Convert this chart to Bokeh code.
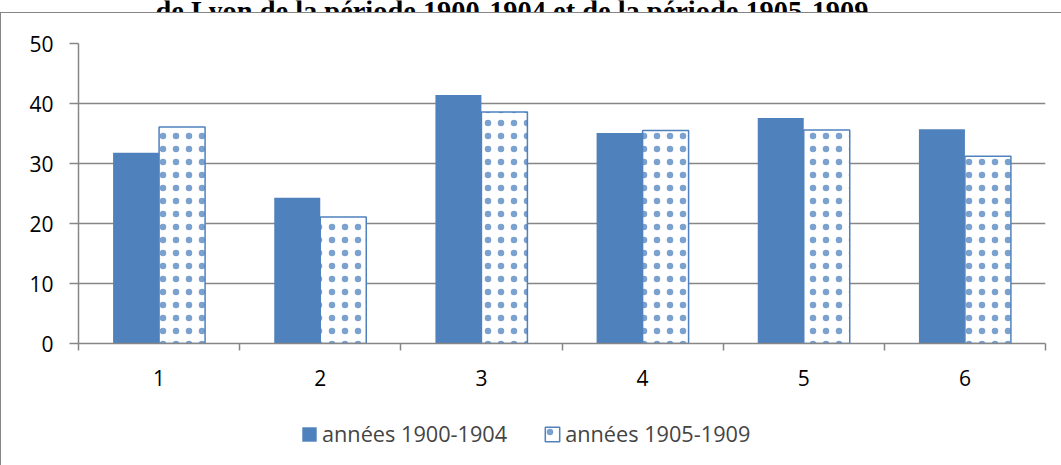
from bokeh.plotting import figure
from bokeh.models import (FixedTicker, Legend, LegendItem, Label, InlineStyleSheet,
                          ColumnDataSource, BoxAnnotation)
from bokeh.layouts import column
from bokeh.transform import dodge
from bokeh.embed import file_html
from bokeh.resources import INLINE

# ---- data ----
categories = [1, 2, 3, 4, 5, 6]
tick_labels = ["1", "2", "3", "4", "5", "6"]
series_1900_1904 = [31.8, 24.3, 41.4, 35.1, 37.6, 35.7]
series_1905_1909 = [36.1, 21.1, 38.6, 35.5, 35.6, 31.2]
series_names = ["années 1900-1904", "années 1905-1909"]
title_text = "de Lyon de la période 1900-1904 et de la période 1905-1909"

BLUE = "#4f81bd"
GRAY = "#868686"
FONT = "Open Sans"

FILLED = dict(fill_color=BLUE, line_color=None)
DOTTED = dict(fill_color="white", line_color=BLUE, line_width=1.5,
              hatch_pattern=".", hatch_color=BLUE, hatch_scale=13, hatch_weight=0.1,
              hatch_alpha=0.75)


def box_css(with_top):
    return InlineStyleSheet(css=(
        ":host { position: relative; } "
        ":host::after { content: ''; position: absolute; left: 0px; top: 0px; right: 0px; bottom: 0px; "
        "border-left: 1px solid #868686; %s pointer-events: none; }"
        % ("border-top: 1px solid #868686;" if with_top else "")))


src = ColumnDataSource(dict(x=categories, a=series_1900_1904, b=series_1905_1909))
bw = 0.2854

# ---- title strip (only the bottom of the title is visible) ----
t = figure(width=1061, height=12, output_backend="svg", toolbar_location=None,
           x_range=(0, 1), y_range=(0, 1), x_axis_type=None, y_axis_type=None,
           min_border=0)
t.outline_line_color = None
t.grid.visible = False
t.add_layout(Label(x=511.5, y=11, x_units="canvas", y_units="canvas", text=title_text,
                   text_align="center", text_baseline="alphabetic",
                   text_font="Liberation Serif", text_font_style="bold",
                   text_font_size="28.4px", text_color="black"))

# ---- main chart ----
p = figure(width=1061, height=388, output_backend="svg", toolbar_location=None,
           x_range=(0.5, 6.5), y_range=(0, 50),
           min_border_left=78, min_border_right=16, min_border_top=31, min_border_bottom=57)
p.outline_line_color = None
p.background_fill_color = "white"
p.border_fill_color = "white"
p.stylesheets = [box_css(True)]

p.vbar(x=dodge("x", -bw / 2), top="a", width=bw, source=src, **FILLED)
p.vbar(x=dodge("x", bw / 2), top="b", width=bw, source=src, **DOTTED)

p.xgrid.visible = False
p.ygrid.ticker = FixedTicker(ticks=[0, 10, 20, 30, 40, 50])
p.ygrid.grid_line_color = GRAY
p.ygrid.grid_line_width = 1.5

p.yaxis.ticker = FixedTicker(ticks=[0, 10, 20, 30, 40, 50])
p.yaxis.axis_line_color = GRAY
p.yaxis.axis_line_width = 1.5
p.yaxis.major_tick_line_color = GRAY
p.yaxis.major_tick_line_width = 1.5
p.yaxis.major_tick_out = 9
p.yaxis.major_tick_in = 0
p.yaxis.minor_tick_line_color = None
p.yaxis.major_label_text_font = FONT
p.yaxis.major_label_text_font_size = "21px"
p.yaxis.major_label_text_color = "black"
p.yaxis.major_label_standoff = 16

p.xaxis.ticker = FixedTicker(ticks=categories,
                             minor_ticks=[c - 0.5 for c in categories] + [categories[-1] + 0.5])
p.xaxis.major_label_overrides = {c: t for c, t in zip(categories, tick_labels)}
p.xaxis.axis_line_color = GRAY
p.xaxis.axis_line_width = 1.5
p.xaxis.major_tick_line_color = None
p.xaxis.major_tick_out = 0
p.xaxis.major_tick_in = 0
p.xaxis.minor_tick_line_color = GRAY
p.xaxis.minor_tick_line_width = 1.5
p.xaxis.minor_tick_out = 7
p.xaxis.minor_tick_in = 0
p.xaxis.major_label_text_font = FONT
p.xaxis.major_label_text_font_size = "21px"
p.xaxis.major_label_text_color = "black"
p.xaxis.major_label_standoff = 19

# ---- legend strip (same series, kept out of view and covered) ----
q = figure(width=1061, height=65, output_backend="svg", toolbar_location=None,
           x_range=(0.5, 6.5), y_range=(1000, 1001), x_axis_type=None, y_axis_type=None,
           min_border=0)
q.outline_line_color = None
q.grid.visible = False
q.stylesheets = [box_css(False)]
k1 = q.vbar(x=dodge("x", -bw / 2), top="a", width=bw, source=src, level="image", **FILLED)
k2 = q.vbar(x=dodge("x", bw / 2), top="b", width=bw, source=src, level="image", **DOTTED)
q.add_layout(BoxAnnotation(fill_color="white", fill_alpha=1, line_color=None))
legend = Legend(items=[LegendItem(label=series_names[0], renderers=[k1]),
                       LegendItem(label=series_names[1], renderers=[k2])],
                orientation="horizontal", location=(222, 17),
                label_text_font=FONT, label_text_font_size="21.7px",
                glyph_width=18, glyph_height=18, label_standoff=4, spacing=36,
                padding=0, margin=0, border_line_color=None, background_fill_alpha=0)
q.add_layout(legend, "center")

layout = column(t, p, q, spacing=0)
open("out.html", "w").write(file_html(layout, INLINE))
